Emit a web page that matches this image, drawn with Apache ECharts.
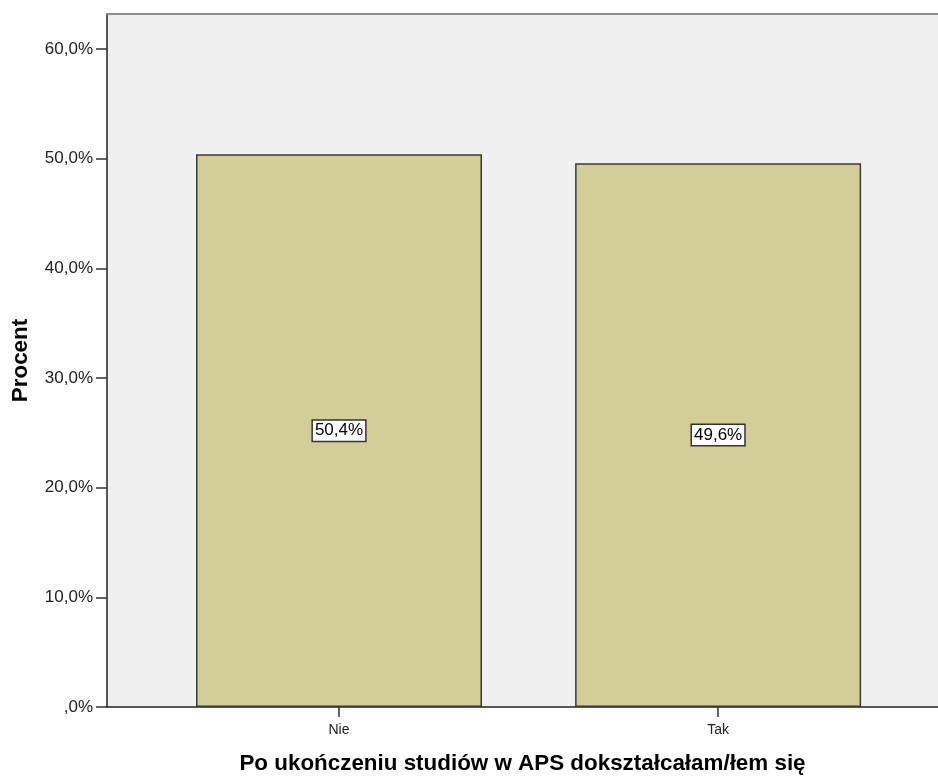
<!DOCTYPE html>
<html><head><meta charset="utf-8">
<script src="https://cdn.jsdelivr.net/npm/echarts@6/dist/echarts.min.js"></script>
<style>html,body{margin:0;padding:0;background:#fff}#c{width:938px;height:778px}</style>
</head><body><div id="c"></div>
<script>
const categories = ['Nie', 'Tak'];
const percents = [50.4, 49.6];
const yTicks = [0, 10, 20, 30, 40, 50, 60];

const fmtPct = v => {
  let s = v.toFixed(1).replace('.', ',');
  if (s.startsWith('0,')) s = s.slice(1);
  return s + '%';
};
const font = '"Liberation Sans", Arial, sans-serif';
const chart = echarts.init(document.getElementById('c'));
chart.setOption({
  animation: false,
  grid: { left: 107, top: 14, right: 0, bottom: 71, show: true, backgroundColor: '#F0F0F0', borderWidth: 0, containLabel: false, outerBoundsMode: 'none' },
  xAxis: [{
    type: 'value', min: -0.612, max: 1.58,
    name: 'Po ukończeniu studiów w APS dokształcałam/łem się',
    nameLocation: 'middle', nameGap: 46,
    nameTextStyle: { fontFamily: font, fontSize: 22.4, fontWeight: 'bold', color: '#000' },
    axisLine: { show: true, onZero: false, lineStyle: { color: '#222', width: 1.5 } },
    axisTick: { show: true, customValues: [0, 1], length: 10, lineStyle: { color: '#333', width: 1.5 } },
    axisLabel: { customValues: [0, 1], formatter: v => categories[Math.round(v)], fontFamily: font, fontSize: 14, color: '#222', margin: 16 },
    splitLine: { show: false }
  }, {
    type: 'value', position: 'top', min: -0.612, max: 1.58,
    axisLine: { show: true, onZero: false, lineStyle: { color: '#8a8a8a', width: 2 } },
    axisTick: { show: false }, axisLabel: { show: false }, splitLine: { show: false }
  }],
  yAxis: {
    type: 'value', min: 0, max: 63.2, interval: 10,
    name: 'Procent', nameLocation: 'middle', nameGap: 75,
    nameTextStyle: { fontFamily: font, fontSize: 22.4, fontWeight: 'bold', color: '#000' },
    axisLine: { show: true, onZero: false, lineStyle: { color: '#222', width: 1.5 } },
    axisTick: { show: true, customValues: yTicks, length: 11, lineStyle: { color: '#333', width: 1.5 } },
    axisLabel: { customValues: yTicks, formatter: fmtPct, fontFamily: font, fontSize: 17, color: '#222', margin: 14 },
    splitLine: { show: false }
  },
  series: [{
    type: 'bar',
    data: percents.map((v, i) => [i, v]),
    barWidth: 286,
    itemStyle: { color: '#D3CE97', borderColor: '#3a3a3a', borderWidth: 1.5 },
    label: {
      show: true, position: 'inside',
      formatter: p => fmtPct(p.value[1]),
      fontFamily: font, fontSize: 17, color: '#000',
      backgroundColor: '#fff', borderColor: '#333', borderWidth: 1.5, padding: [2, 2, 1, 2]
    }
  }]
});
</script></body></html>
